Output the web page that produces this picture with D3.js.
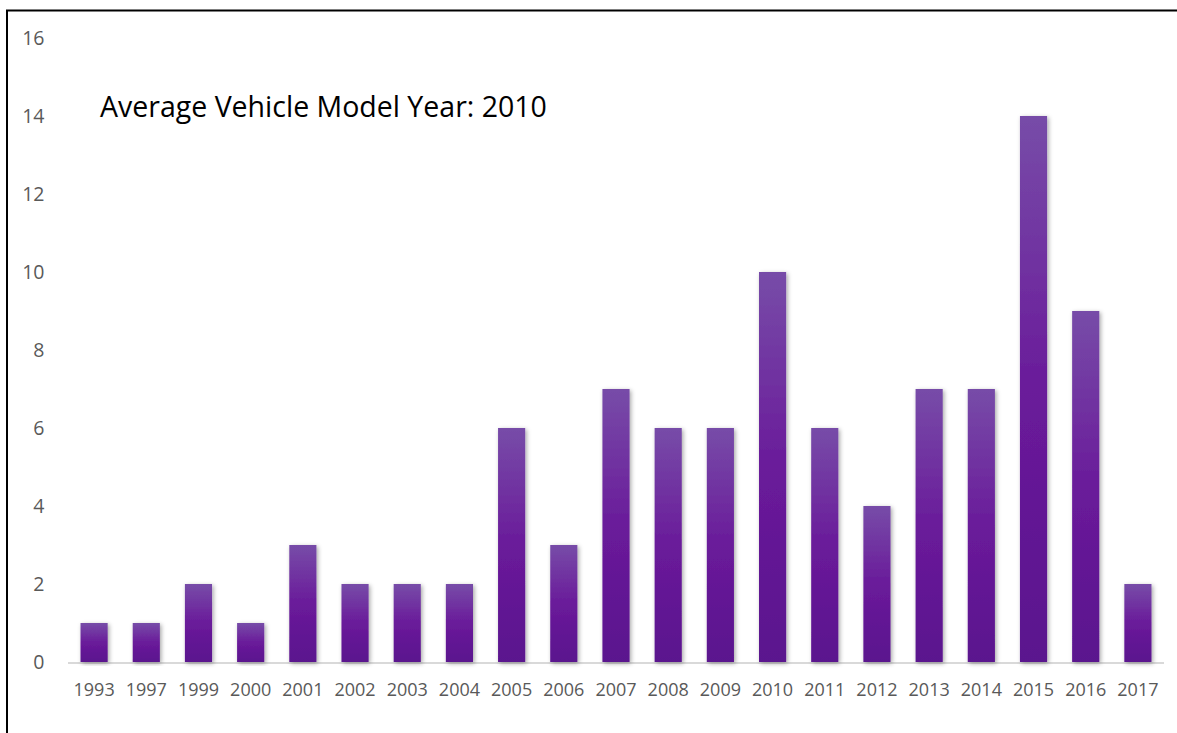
<!DOCTYPE html>
<html>
<head>
<meta charset="utf-8">
<script src="https://cdn.jsdelivr.net/npm/d3@7"></script>
<style>
  html, body { margin: 0; padding: 0; background: #fff; }
  svg { display: block; }
</style>
</head>
<body>
<script>
const categories = ["1993","1997","1999","2000","2001","2002","2003","2004","2005","2006","2007","2008","2009","2010","2011","2012","2013","2014","2015","2016","2017"];
const counts = [1,1,2,1,3,2,2,2,6,3,7,6,6,10,6,4,7,7,14,9,2];
const yTicks = [0,2,4,6,8,10,12,14,16];
const titleText = "Average Vehicle Model Year: 2010";

const W = 1177, H = 733;
const svg = d3.select("body").append("svg").attr("width", W).attr("height", H);
const defs = svg.append("defs");
const grad = defs.append("linearGradient").attr("id","barGrad")
  .attr("x1",0).attr("y1",0).attr("x2",0).attr("y2",1);
grad.append("stop").attr("offset","0%").attr("stop-color","#774ca8");
grad.append("stop").attr("offset","50%").attr("stop-color","#6a1b9a");
grad.append("stop").attr("offset","100%").attr("stop-color","#5a128e");
const shadow = defs.append("filter").attr("id","shadow")
  .attr("x","-30%").attr("y","-10%").attr("width","160%").attr("height","120%");
shadow.append("feDropShadow").attr("dx",1.5).attr("dy",1.5).attr("stdDeviation",2.2)
  .attr("flood-color","#000").attr("flood-opacity",0.35);

// frame (top and left lines)
svg.append("line").attr("x1",6).attr("x2",W).attr("y1",10.5).attr("y2",10.5)
  .attr("stroke","#000").attr("stroke-width",2);
svg.append("line").attr("x1",7).attr("x2",7).attr("y1",10).attr("y2",H)
  .attr("stroke","#000").attr("stroke-width",2);

const x = d3.scaleBand().domain(categories).range([68,1164]).paddingInner(0.48).paddingOuter(0.24);
const y = d3.scaleLinear().domain([0,16]).range([662,38]);

// baseline
svg.append("line").attr("x1",68).attr("x2",1164).attr("y1",y(0)+1).attr("y2",y(0)+1)
  .attr("stroke","#d9d9d9").attr("stroke-width",2);

// bars
svg.append("g").selectAll("rect").data(categories).join("rect")
  .attr("x", d => x(d))
  .attr("width", x.bandwidth())
  .attr("y", (d,i) => y(counts[i]))
  .attr("height", (d,i) => y(0) - y(counts[i]))
  .attr("fill","url(#barGrad)")
  .attr("filter","url(#shadow)");

// y axis
const yAxis = d3.axisLeft(y).tickValues(yTicks).tickSize(0).tickPadding(0);
const gy = svg.append("g").attr("transform","translate(44.5,0)").call(yAxis);
gy.select(".domain").remove();
gy.selectAll("text").attr("font-family","'Open Sans', sans-serif").attr("font-size",19.5)
  .attr("fill","#595959");

// x axis
const xAxis = d3.axisBottom(x).tickSize(0).tickPadding(0);
const gx = svg.append("g").attr("transform","translate(0,683)").call(xAxis);
gx.select(".domain").remove();
gx.selectAll("text").attr("font-family","'Open Sans', sans-serif").attr("font-size",18)
  .attr("fill","#595959");

// title
svg.append("text").attr("x",100).attr("y",117).text(titleText)
  .attr("font-family","'Open Sans', sans-serif").attr("font-size",28.5).attr("fill","#000");
</script>
</body>
</html>
